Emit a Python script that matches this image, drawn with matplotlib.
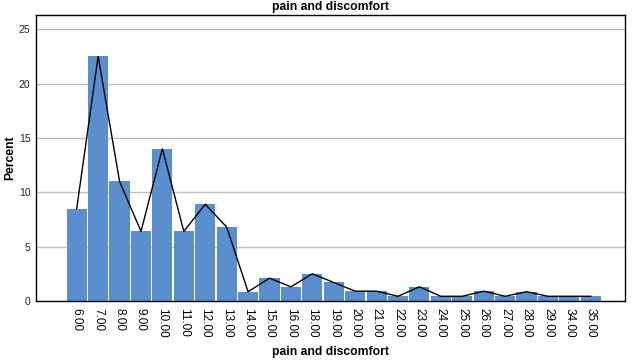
import matplotlib
matplotlib.use("Agg")
import matplotlib.pyplot as plt

plt.rcParams['font.family'] = ['Liberation Sans', 'DejaVu Sans']

# categories (score values) and percent per category
categories = ['6.00', '7.00', '8.00', '9.00', '10.00', '11.00', '12.00', '13.00',
              '14.00', '15.00', '16.00', '18.00', '19.00', '20.00', '21.00', '22.00',
              '23.00', '24.00', '25.00', '26.00', '27.00', '28.00', '29.00', '34.00', '35.00']
percent = [8.5, 22.5, 11.0, 6.4, 14.0, 6.4, 8.9, 6.8,
           0.85, 2.1, 1.3, 2.5, 1.7, 0.9, 0.9, 0.43,
           1.3, 0.43, 0.43, 0.9, 0.43, 0.85, 0.43, 0.43, 0.43]
yticks = [0, 5, 10, 15, 20, 25]

fig = plt.figure(figsize=(6.32, 3.6), dpi=100)
ax = fig.add_axes([0.057, 0.164, 0.932, 0.794])

x = list(range(len(categories)))
ax.set_axisbelow(True)
ax.grid(axis='y', color='#c0c0c0', linewidth=1)
ax.bar(x, percent, width=0.94, color='#5a8fcf', edgecolor='none')
ax.plot(x, percent, color='black', linewidth=1)

ax.set_xlim(-1.9, len(categories) - 1 + 1.6)
ax.set_ylim(0, 26.3)
ax.set_yticks(yticks)
ax.set_xticks(x)
ax.set_xticklabels(categories, rotation=-90, fontsize=8.5)
ax.tick_params(axis='y', length=0, labelsize=7.5, pad=4, labelcolor='#222222')
ax.tick_params(axis='x', length=0, pad=5)

for s in ax.spines.values():
    s.set_color('black')
    s.set_linewidth(1)

ax.set_title('pain and discomfort', fontsize=8.7, fontweight='bold', pad=4)
ax.set_xlabel('pain and discomfort', fontsize=8.7, fontweight='bold', labelpad=6)
ax.set_ylabel('Percent', fontsize=8.7, fontweight='bold', labelpad=2)

fig.savefig('out.png', dpi=100)
